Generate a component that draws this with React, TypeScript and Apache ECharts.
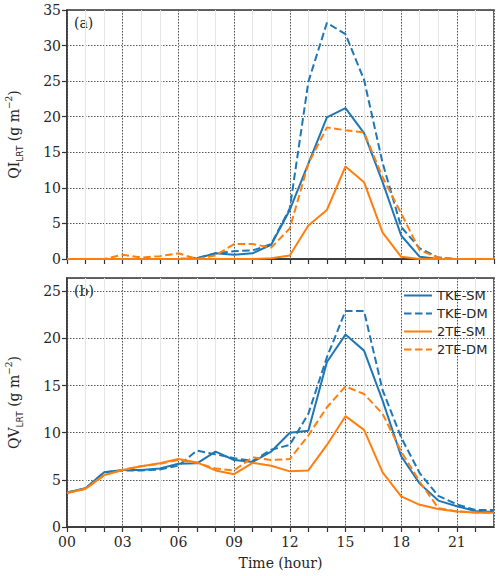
import React, { useEffect, useRef } from "react";
import * as echarts from "echarts";

const hours = [0, 1, 2, 3, 4, 5, 6, 7, 8, 9, 10, 11, 12, 13, 14, 15, 16, 17, 18, 19, 20, 21, 22, 23];
const seriesNames = ["TKE-SM", "TKE-DM", "2TE-SM", "2TE-DM"];

// Panel (a) QI_LRT
const qiTkeSm = [0, 0, 0, 0, 0, 0, 0, 0.1, 0.8, 0.6, 0.8, 2.0, 6.9, 13.4, 19.9, 21.2, 17.7, 10.8, 3.3, 0.3, 0, 0, 0, 0];
const qiTkeDm = [0, 0, 0, 0, 0, 0, 0, 0.1, 0.8, 1.1, 1.2, 2.1, 7.1, 24.9, 33.2, 31.6, 25.2, 13.5, 4.5, 1.5, 0.2, 0, 0, 0];
const qi2teSm = [0, 0, 0, 0, 0, 0, 0, 0, 0, 0, 0, 0.1, 0.5, 4.7, 6.9, 13.0, 10.8, 3.7, 0.3, 0, 0, 0, 0, 0];
const qi2teDm = [0, 0, 0, 0.6, 0.2, 0.4, 0.8, 0, 0.5, 2.1, 2.1, 1.6, 4.3, 13.4, 18.5, 18.1, 17.8, 11.5, 6.4, 1.2, 0.2, 0, 0, 0];

// Panel (b) QV_LRT
const qvTkeSm = [3.65, 4.1, 5.8, 6.05, 6.05, 6.2, 6.7, 6.75, 8.0, 7.1, 6.9, 8.0, 10.0, 10.2, 17.5, 20.4, 18.7, 13.4, 7.5, 4.6, 2.8, 2.2, 1.7, 1.6];
const qvTkeDm = [3.65, 4.1, 5.8, 6.0, 6.0, 6.1, 6.5, 8.1, 7.7, 7.3, 7.0, 8.2, 8.7, 12.0, 18.0, 22.9, 22.9, 14.5, 9.5, 5.7, 3.3, 2.4, 1.8, 1.8];
const qv2teSm = [3.6, 4.05, 5.5, 6.05, 6.45, 6.75, 7.2, 6.85, 6.0, 5.6, 6.8, 6.5, 5.9, 6.0, 8.7, 11.75, 10.3, 5.8, 3.25, 2.35, 1.9, 1.65, 1.55, 1.5];
const qv2teDm = [3.6, 4.05, 5.5, 6.05, 6.45, 6.7, 7.1, 6.8, 6.2, 6.0, 7.4, 7.1, 7.2, 9.7, 12.7, 14.9, 14.1, 12.0, 8.0, 4.8, 2.0, 1.65, 1.55, 1.5];

const panelLabels = ["(a)", "(b)"];

const BLUE = "#1f77b4";
const ORANGE = "#ff7f0e";
const SERIF = "DejaVu Serif";
const SANS = "DejaVu Sans";
const TXT = "#262626";
const SPINE = "#333";

function App() {
  const ref = useRef<HTMLDivElement>(null);
  useEffect(() => {
    if (!ref.current) return;
    const chart = echarts.init(ref.current, null, { renderer: "svg" });

    const grids = [
      { left: 67, right: 6, top: 10, height: 249, show: true, borderColor: SPINE, borderWidth: 1.5, backgroundColor: "transparent", outerBoundsMode: "none", containLabel: false },
      { left: 67, right: 6, top: 278, height: 249, show: true, borderColor: SPINE, borderWidth: 1.5, backgroundColor: "transparent", outerBoundsMode: "none", containLabel: false },
    ];

    const xAxes: any[] = [];
    [0, 1].forEach((g) => {
      xAxes.push({
        type: "value",
        gridIndex: g,
        position: "bottom",
        min: 0,
        max: 23,
        interval: 1,
        axisLine: { show: true, onZero: false, lineStyle: { color: SPINE, width: 1.5 } },
        axisTick: { show: true, inside: false, length: 5, lineStyle: { color: SPINE, width: 1.2 } },
        axisLabel: {
          show: g === 1,
          margin: 8,
          fontFamily: SERIF,
          fontWeight: "normal",
          fontSize: 14,
          color: TXT,
          showMaxLabel: false,
          formatter: (v: number) => (v % 3 === 0 && v < 23 ? String(v).padStart(2, "0") : ""),
        },
        splitLine: { show: true, lineStyle: { color: "#e6e6e6", width: 1, type: "solid" } },
        name: g === 1 ? "Time (hour)" : "",
        nameLocation: "middle",
        nameGap: 29,
        nameTextStyle: { fontFamily: SERIF, fontWeight: "normal", fontSize: 14, color: TXT },
      });
      xAxes.push({
        type: "value",
        gridIndex: g,
        position: "top",
        min: 0,
        max: 23,
        interval: 3,
        axisLine: { show: false },
        axisTick: { show: false },
        axisLabel: { show: false },
        splitLine: { show: true, lineStyle: { color: "#555", width: 1, type: [1.5, 1.5] } },
      });
    });

    const yName = (v: string) => `{a|Q${v}}{s|LRT}{a| (g m}{p|−2}{a|)}`;
    const nameRich = {
      a: { fontFamily: SERIF, fontWeight: "normal", fontSize: 14, color: TXT, lineHeight: 20 },
      s: { fontFamily: SANS, fontWeight: "normal", fontSize: 9, color: TXT, verticalAlign: "bottom", lineHeight: 20, padding: [8, 0, 0, 0] },
      p: { fontFamily: SERIF, fontWeight: "normal", fontSize: 9, color: TXT, verticalAlign: "top", lineHeight: 20, padding: [0, 0, 8, 0] },
    };

    const yAxes = [
      { max: 35, name: yName("I") },
      { max: 26.4, name: yName("V") },
    ].map((c, g) => ({
      type: "value",
      gridIndex: g,
      min: 0,
      max: c.max,
      interval: 5,
      axisLine: { show: true, lineStyle: { color: SPINE, width: 1.5 } },
      axisTick: { show: true, inside: false, length: 5, lineStyle: { color: SPINE, width: 1.2 } },
      axisLabel: { fontFamily: SERIF, fontWeight: "normal", fontSize: 14, color: TXT, margin: 6, showMaxLabel: g === 0 },
      splitLine: { show: true, lineStyle: { color: "#555", width: 1, type: [1.5, 1.5] } },
      name: c.name,
      nameLocation: "middle",
      nameGap: 43,
      nameTextStyle: { fontFamily: SERIF, fontWeight: "normal", rich: nameRich },
    }));

    const mk = (name: string, vals: number[], color: string, dashed: boolean, g: number) => ({
      name,
      type: "line",
      xAxisIndex: g * 2,
      yAxisIndex: g,
      data: hours.map((h, i) => [h, vals[i]]),
      symbol: "circle",
      symbolSize: 0,
      showSymbol: false,
      lineStyle: { color, width: 2, type: dashed ? [7.5, 3.5] : "solid" },
      itemStyle: { color },
      z: 3,
    });

    const series = [
      mk(seriesNames[0], qiTkeSm, BLUE, false, 0),
      mk(seriesNames[1], qiTkeDm, BLUE, true, 0),
      mk(seriesNames[2], qi2teSm, ORANGE, false, 0),
      mk(seriesNames[3], qi2teDm, ORANGE, true, 0),
      mk(seriesNames[0], qvTkeSm, BLUE, false, 1),
      mk(seriesNames[1], qvTkeDm, BLUE, true, 1),
      mk(seriesNames[2], qv2teSm, ORANGE, false, 1),
      mk(seriesNames[3], qv2teDm, ORANGE, true, 1),
    ];

    chart.setOption({
      animation: false,
      backgroundColor: "#fff",
      textStyle: { fontFamily: SERIF, fontWeight: "normal" },
      grid: grids,
      xAxis: xAxes,
      yAxis: yAxes,
      series,
      legend: {
        data: seriesNames,
        orient: "vertical",
        left: 398,
        top: 284,
        itemWidth: 28,
        itemHeight: 14,
        itemGap: 5,
        itemStyle: { opacity: 0 },
        textStyle: { fontFamily: SANS, fontSize: 13, color: TXT },
      },
      graphic: [
        { type: "text", left: 74, top: 16, style: { text: panelLabels[0], fontFamily: SERIF, fontSize: 14, fill: TXT } },
        { type: "text", left: 74, top: 284, style: { text: panelLabels[1], fontFamily: SERIF, fontSize: 14, fill: TXT } },
      ],
    });
    return () => chart.dispose();
  }, []);
  return <div ref={ref} style={{ width: 500, height: 576, position: "absolute", left: 0, top: 0 }} />;
}

export default App;
